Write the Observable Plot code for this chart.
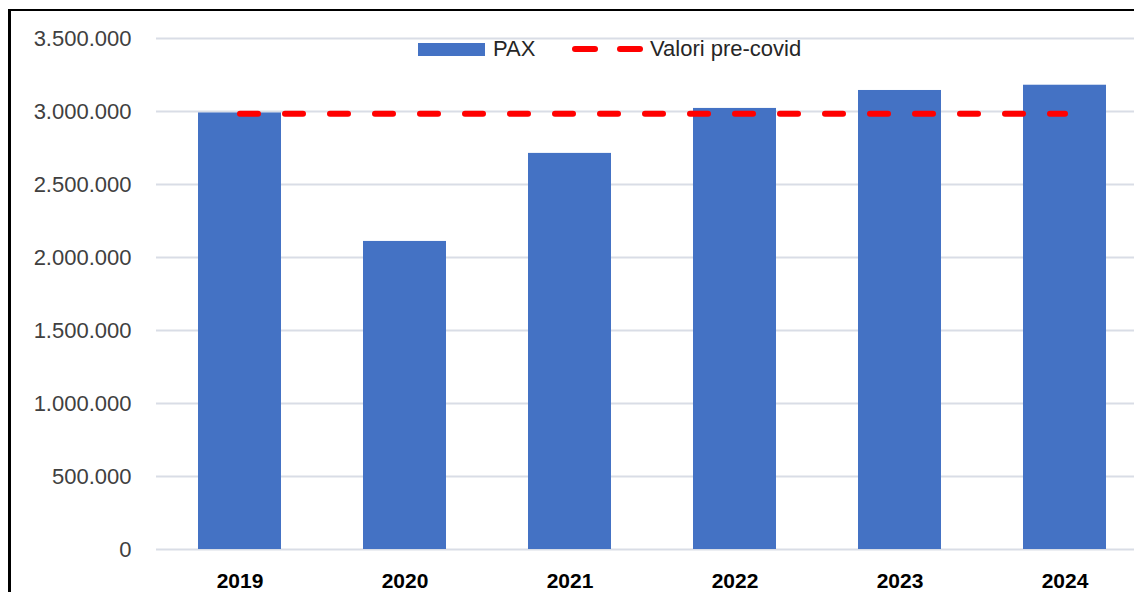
<!DOCTYPE html>
<html>
<head>
<meta charset="utf-8">
<script src="https://cdn.jsdelivr.net/npm/d3@7"></script>
<script src="https://cdn.jsdelivr.net/npm/@observablehq/plot@0.6"></script>
<style>
  html, body { margin: 0; padding: 0; background: #fff; overflow: hidden; }
  #wrap { position: relative; width: 1134px; height: 592px; overflow: hidden; font-family: "Liberation Sans", Arial, sans-serif; }
  #frame { position: absolute; left: 8px; top: 9px; width: 1200px; height: 700px; border-left: 3px solid #000; border-top: 2px solid #000; box-sizing: border-box; pointer-events: none; }
  #chart { position: absolute; left: 0; top: 0; }
  #chart svg { max-width: none !important; }
  .legend { position: absolute; top: 36px; height: 26px; display: flex; align-items: center; font-size: 22px; color: #262626; white-space: nowrap; }
  .sw-bar { display: inline-block; width: 67px; height: 13px; background: #4472c4; }
  .sw-dash { display: inline-block; width: 26px; height: 6px; border-radius: 3px; background: #ff0000; }
</style>
</head>
<body>
<div id="wrap">
  <div id="chart"></div>
  <div id="frame"></div>
</div>
<script>
const years = ["2019", "2020", "2021", "2022", "2023", "2024"];
const pax = [2990000, 2110000, 2713000, 3021000, 3144000, 3180000];
const preCovid = [2984000, 2984000, 2984000, 2984000, 2984000, 2984000];
const yTicks = [0, 500000, 1000000, 1500000, 2000000, 2500000, 3000000, 3500000];
const seriesNames = ["PAX", "Valori pre-covid"];

const it = d3.formatLocale({decimal: ",", thousands: ".", grouping: [3], currency: ["€", ""]});
const fmt = it.format(",d");

const barData = years.map((y, i) => ({year: y, value: pax[i]}));
const lineData = years.map((y, i) => ({year: y, value: preCovid[i]}));

const plot = Plot.plot({
  width: 1150,
  height: 592,
  marginLeft: 156,
  marginRight: 2,
  marginTop: 38,
  marginBottom: 43,
  style: {background: "transparent", fontFamily: "'Liberation Sans', Arial, sans-serif", overflow: "visible", maxWidth: "none"},
  x: {domain: years, paddingInner: 0.5, paddingOuter: 0.25, label: null},
  y: {domain: [0, 3500000], label: null},
  marks: [
    Plot.gridY(yTicks, {stroke: "#d9dde6", strokeWidth: 2, strokeOpacity: 1}),
    Plot.axisY(yTicks, {tickSize: 0, tickPadding: 25, tickFormat: fmt, fontSize: 22, fill: "#404040", label: null}),
    Plot.axisX({tickSize: 0, tickPadding: 24, fontSize: 21, fontWeight: "bold", fill: "#000", label: null}),
    Plot.barY(barData, {x: "year", y: "value", fill: "#4472c4"}),
    Plot.lineY(lineData, {x: "year", y: "value", stroke: "#ff0000", strokeWidth: 6, strokeDasharray: "18,27", strokeLinecap: "round"})
  ]
});
plot.style.maxWidth = "none";
document.getElementById("chart").appendChild(plot);

const wrap = document.getElementById("wrap");
const leg1 = document.createElement("div");
leg1.className = "legend";
leg1.style.left = "418px";
leg1.innerHTML = `<span class="sw-bar"></span><span style="margin-left:8px">${seriesNames[0]}</span>`;
wrap.appendChild(leg1);
const leg2 = document.createElement("div");
leg2.className = "legend";
leg2.style.left = "572px";
leg2.innerHTML = `<span class="sw-dash"></span><span class="sw-dash" style="margin-left:19px"></span><span style="margin-left:7px">${seriesNames[1]}</span>`;
wrap.appendChild(leg2);
</script>
</body>
</html>
